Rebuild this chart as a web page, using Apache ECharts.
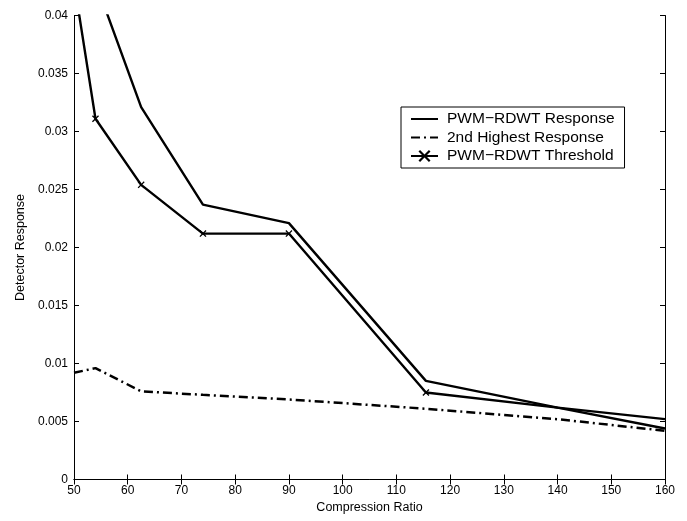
<!DOCTYPE html>
<html><head><meta charset="utf-8">
<script src="https://cdn.jsdelivr.net/npm/echarts@6/dist/echarts.min.js"></script>
<style>html,body{margin:0;padding:0;background:#fff}#c{width:687px;height:521px}</style>
</head><body><div id="c"></div>
<script>
var ratios = [50, 54, 62.5, 74, 90, 115.5, 140, 160];
var response = [0.049, 0.0429, 0.0321, 0.0237, 0.0221, 0.0085, 0.0062, 0.0052];
var secondHighest = [0.0092, 0.0096, 0.0076, 0.0073, 0.0069, 0.0061, 0.0052, 0.0042];
var threshold = [0.0429, 0.0311, 0.0254, 0.0212, 0.0212, 0.0075, 0.0062, 0.0044];
var thresholdMarked = [true, true, true, true, true, true, false, false];
var xTicks = [50, 60, 70, 80, 90, 100, 110, 120, 130, 140, 150, 160];
var yTicks = [0, 0.005, 0.01, 0.015, 0.02, 0.025, 0.03, 0.035, 0.04];
var names = ['PWM\u2212RDWT Response', '2nd Highest Response', 'PWM\u2212RDWT Threshold'];

var font = 'Liberation Sans, Arial, sans-serif';
var xMark = 'path://M0,1.3L1.3,0L5,3.7L8.7,0L10,1.3L6.3,5L10,8.7L8.7,10L5,6.3L1.3,10L0,8.7L3.7,5Z';

function pairs(ys) { return ratios.map(function (x, i) { return [x, ys[i]]; }); }

var chart = echarts.init(document.getElementById('c'), null, {renderer: 'canvas'});
var axisLine = {show: true, lineStyle: {color: '#000', width: 1}};
var tick = {show: true, inside: true, length: 5, lineStyle: {color: '#000'}};
var hidden = {color: 'rgba(0,0,0,0)', borderWidth: 0, opacity: 0};
chart.setOption({
  animation: false,
  backgroundColor: '#fff',
  grid: {left: 74, right: 22, top: 15.5, bottom: 41.5, containLabel: false},
  legend: {
    orient: 'vertical', left: 401, top: 107,
    backgroundColor: '#fff', borderColor: '#000', borderWidth: 1,
    padding: [4, 10, 4, 9], itemGap: 2.5, itemWidth: 27, itemHeight: 15,
    textStyle: {fontFamily: font, fontSize: 15.5, lineHeight: 15, color: '#000', padding: [0, 0, 0, 4]},
    data: [
      {name: names[0], itemStyle: hidden},
      {name: names[1], itemStyle: hidden},
      {name: names[2]}
    ]
  },
  xAxis: [{
    type: 'value', min: 50, max: 160, interval: 10, position: 'bottom',
    name: 'Compression Ratio', nameLocation: 'middle', nameGap: 22,
    nameTextStyle: {fontFamily: font, fontSize: 12.5, color: '#000'},
    axisLine: axisLine, axisTick: tick, splitLine: {show: false},
    axisLabel: {fontFamily: font, fontSize: 12, color: '#000', margin: 5,
      formatter: function (v) { return xTicks.indexOf(v) >= 0 ? String(v) : ''; }}
  }, {
    type: 'value', min: 50, max: 160, interval: 10, position: 'top',
    axisLine: axisLine, axisTick: tick, axisLabel: {show: false}, splitLine: {show: false}
  }],
  yAxis: [{
    type: 'value', min: 0, max: 0.04, interval: 0.005, position: 'left',
    name: 'Detector Response', nameLocation: 'middle', nameGap: 46,
    nameTextStyle: {fontFamily: font, fontSize: 12.5, color: '#000'},
    axisLine: axisLine, axisTick: tick, splitLine: {show: false},
    axisLabel: {fontFamily: font, fontSize: 12, color: '#000', margin: 6,
      formatter: function (v) {
        for (var i = 0; i < yTicks.length; i++) if (Math.abs(yTicks[i] - v) < 1e-9) return String(yTicks[i]);
        return '';
      }}
  }, {
    type: 'value', min: 0, max: 0.04, interval: 0.005, position: 'right',
    axisLine: axisLine, axisTick: tick, axisLabel: {show: false}, splitLine: {show: false}
  }],
  series: [{
    name: names[0], type: 'line', data: pairs(response),
    showSymbol: false, symbol: 'none', clip: true,
    lineStyle: {color: '#000', width: 2.4}, itemStyle: {color: '#000'}
  }, {
    name: names[1], type: 'line', data: pairs(secondHighest),
    showSymbol: false, symbol: 'none', clip: true,
    lineStyle: {color: '#000', width: 2.5, type: [9, 4, 2, 4]}, itemStyle: {color: '#000'}
  }, {
    name: names[2], type: 'line', clip: true,
    data: ratios.map(function (x, i) {
      return {value: [x, threshold[i]], symbol: thresholdMarked[i] ? xMark : 'none'};
    }),
    symbol: xMark, symbolSize: 7, showAllSymbol: true,
    lineStyle: {color: '#000', width: 2.4}, itemStyle: {color: '#000'}
  }]
});
</script></body></html>
